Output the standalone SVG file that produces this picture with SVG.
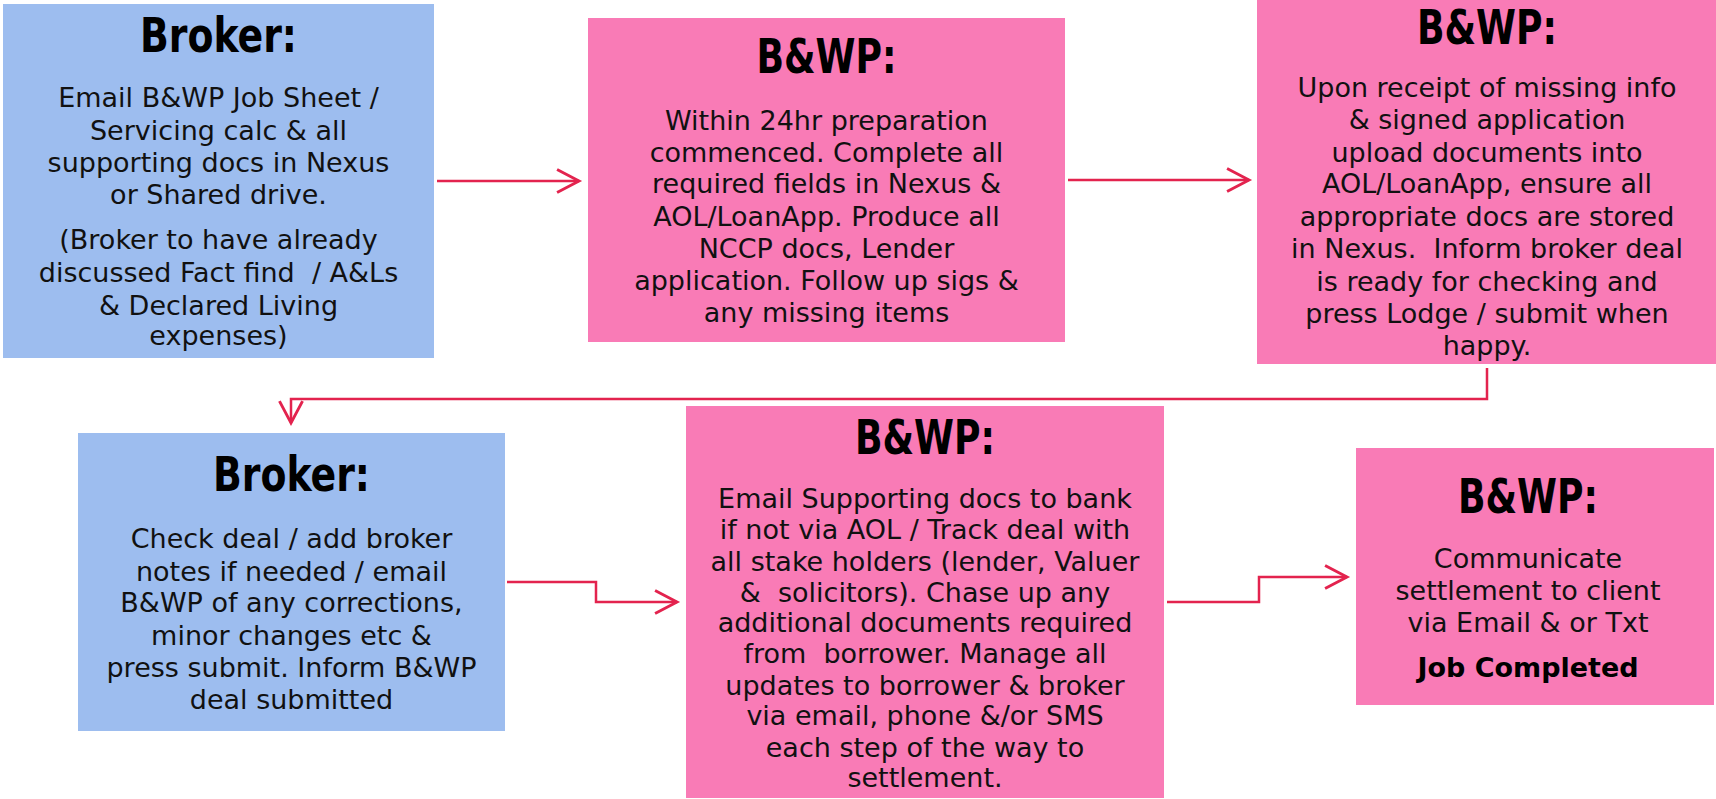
<svg xmlns="http://www.w3.org/2000/svg" width="1716" height="799" viewBox="0 0 1716 799">
<style>
.blue{fill:#9DBDEF}
.pink{fill:#F97BB6}
.h{font-family:"Liberation Sans Narrow","DejaVu Sans Condensed","Liberation Sans",sans-serif;font-weight:bold;font-size:48px;fill:#000;text-anchor:middle}
.b{font-family:"DejaVu Sans","Liberation Sans",sans-serif;font-size:27px;fill:#111;text-anchor:middle}
.bb{font-family:"DejaVu Sans","Liberation Sans",sans-serif;font-size:27px;font-weight:bold;fill:#000;text-anchor:middle}
.c{fill:none;stroke:#E3234E;stroke-width:2.5}
</style>
<defs>
<marker id="ah" markerUnits="userSpaceOnUse" markerWidth="30" markerHeight="30" viewBox="-22 -13 26 26" refX="0" refY="0" orient="auto">
<path d="M-19,-10 L0,0 L-19,10" fill="none" stroke="#E3234E" stroke-width="2.5"/>
</marker>
</defs>
<g id="connectors">
<path class="c" d="M437,181 H579" marker-end="url(#ah)"/>
<path class="c" d="M1068,180 H1249" marker-end="url(#ah)"/>
<path class="c" d="M1487,368 V399 H291 V423" marker-end="url(#ah)"/>
<path class="c" d="M507,582 H596 V602 H677" marker-end="url(#ah)"/>
<path class="c" d="M1167,602 H1259 V577 H1347" marker-end="url(#ah)"/>
</g>
<g id="node1">
<rect class="blue" x="3" y="4" width="431" height="354"/>
<text class="h" x="218.5" y="52" textLength="157" lengthAdjust="spacingAndGlyphs">Broker:</text>
<text class="b" x="218.5" y="107">Email B&amp;WP Job Sheet /</text>
<text class="b" x="218.5" y="140">Servicing calc &amp; all</text>
<text class="b" x="218.5" y="172">supporting docs in Nexus</text>
<text class="b" x="218.5" y="204">or Shared drive.</text>
<text class="b" x="218.5" y="249">(Broker to have already</text>
<text class="b" x="218.5" y="282" xml:space="preserve">discussed Fact find  / A&amp;Ls</text>
<text class="b" x="218.5" y="315">&amp; Declared Living</text>
<text class="b" x="218.5" y="345">expenses)</text>
</g>
<g id="node2">
<rect class="pink" x="588" y="18" width="477" height="324"/>
<text class="h" x="826.5" y="73" textLength="140" lengthAdjust="spacingAndGlyphs">B&amp;WP:</text>
<text class="b" x="826.5" y="130">Within 24hr preparation</text>
<text class="b" x="826.5" y="162">commenced. Complete all</text>
<text class="b" x="826.5" y="193">required fields in Nexus &amp;</text>
<text class="b" x="826.5" y="226">AOL/LoanApp. Produce all</text>
<text class="b" x="826.5" y="258">NCCP docs, Lender</text>
<text class="b" x="826.5" y="290">application. Follow up sigs &amp;</text>
<text class="b" x="826.5" y="322">any missing items</text>
</g>
<g id="node3">
<rect class="pink" x="1257" y="0" width="459" height="364"/>
<text class="h" x="1487" y="44" textLength="140" lengthAdjust="spacingAndGlyphs">B&amp;WP:</text>
<text class="b" x="1487" y="97">Upon receipt of missing info</text>
<text class="b" x="1487" y="129">&amp; signed application</text>
<text class="b" x="1487" y="162">upload documents into</text>
<text class="b" x="1487" y="193">AOL/LoanApp, ensure all</text>
<text class="b" x="1487" y="226">appropriate docs are stored</text>
<text class="b" x="1487" y="258" xml:space="preserve">in Nexus.  Inform broker deal</text>
<text class="b" x="1487" y="291">is ready for checking and</text>
<text class="b" x="1487" y="323">press Lodge / submit when</text>
<text class="b" x="1487" y="355">happy.</text>
</g>
<g id="node4">
<rect class="blue" x="78" y="433" width="427" height="298"/>
<text class="h" x="291.5" y="491" textLength="157" lengthAdjust="spacingAndGlyphs">Broker:</text>
<text class="b" x="291.5" y="548">Check deal / add broker</text>
<text class="b" x="291.5" y="581">notes if needed / email</text>
<text class="b" x="291.5" y="612">B&amp;WP of any corrections,</text>
<text class="b" x="291.5" y="645">minor changes etc &amp;</text>
<text class="b" x="291.5" y="677">press submit. Inform B&amp;WP</text>
<text class="b" x="291.5" y="709">deal submitted</text>
</g>
<g id="node5">
<rect class="pink" x="686" y="406" width="478" height="392"/>
<text class="h" x="925" y="454" textLength="140" lengthAdjust="spacingAndGlyphs">B&amp;WP:</text>
<text class="b" x="925" y="508">Email Supporting docs to bank</text>
<text class="b" x="925" y="539">if not via AOL / Track deal with</text>
<text class="b" x="925" y="571">all stake holders (lender, Valuer</text>
<text class="b" x="925" y="602" xml:space="preserve">&amp;  solicitors). Chase up any</text>
<text class="b" x="925" y="632">additional documents required</text>
<text class="b" x="925" y="663" xml:space="preserve">from  borrower. Manage all</text>
<text class="b" x="925" y="695">updates to borrower &amp; broker</text>
<text class="b" x="925" y="725">via email, phone &amp;/or SMS</text>
<text class="b" x="925" y="757">each step of the way to</text>
<text class="b" x="925" y="787">settlement.</text>
</g>
<g id="node6">
<rect class="pink" x="1356" y="448" width="358" height="257"/>
<text class="h" x="1528" y="513" textLength="140" lengthAdjust="spacingAndGlyphs">B&amp;WP:</text>
<text class="b" x="1528" y="568">Communicate</text>
<text class="b" x="1528" y="600">settlement to client</text>
<text class="b" x="1528" y="632">via Email &amp; or Txt</text>
<text class="bb" x="1528" y="677" textLength="221" lengthAdjust="spacingAndGlyphs">Job Completed</text>
</g>
</svg>
